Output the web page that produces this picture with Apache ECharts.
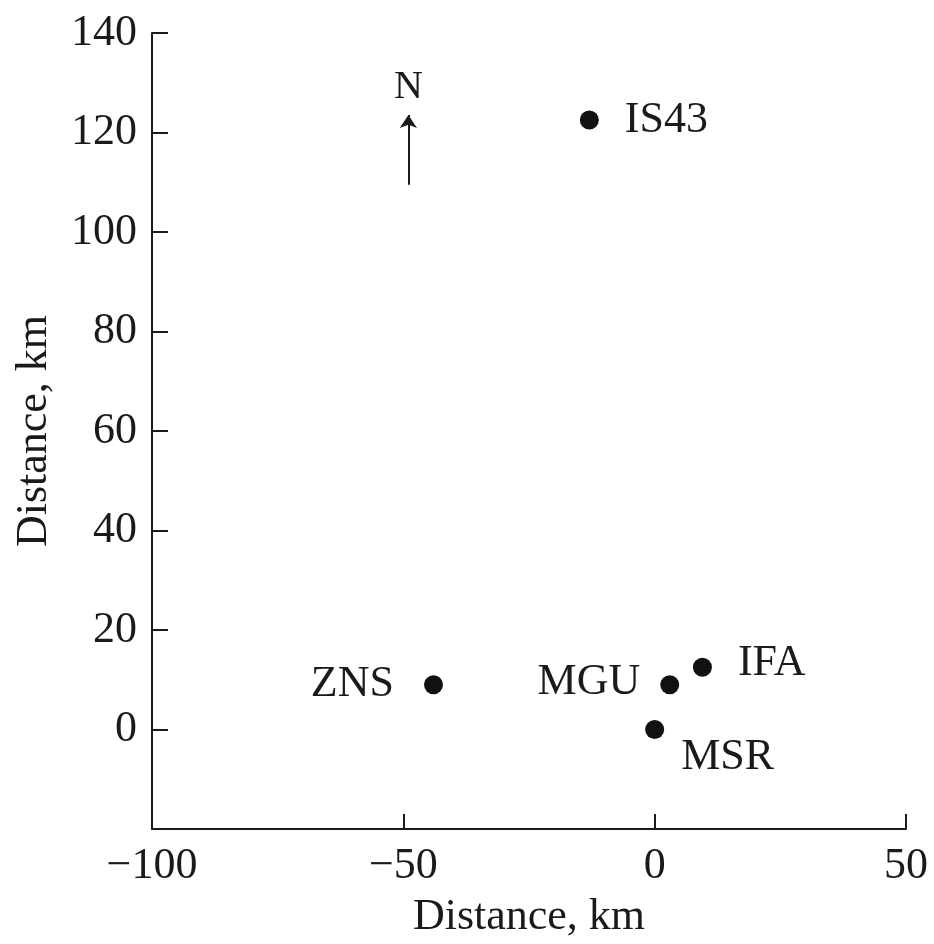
<!DOCTYPE html>
<html>
<head>
<meta charset="utf-8">
<script src="https://cdn.jsdelivr.net/npm/echarts@6/dist/echarts.min.js"></script>
<style>html,body{margin:0;padding:0;background:#fff}#c{width:934px;height:944px}</style>
</head>
<body>
<div id="c"></div>
<script>
// Stations (km)
const stationNames = ['IS43', 'ZNS', 'MGU', 'IFA', 'MSR'];
const stationX = [-13, -44, 3, 9.5, 0];
const stationY = [122.5, 9, 9, 12.5, 0];
// North arrow (data coords)
const northX = -49;
const northFromY = 109.5;
const northToY = 123.5;
const northLabelY = 129;
// Axes
const xTicks = [-100, -50, 0, 50];
const yTicks = [-20, 0, 20, 40, 60, 80, 100, 120, 140];

const FONT = 'Liberation Serif';
const FS = 44;
const labelPlace = {
  IS43: {position: 'right', distance: 26, offset: [0, 0]},
  ZNS: {position: 'left', distance: 30, offset: [0, 0]},
  MGU: {position: 'left', distance: 20, offset: [0, -2]},
  IFA: {position: 'right', distance: 26, offset: [0, -4]},
  MSR: {position: 'right', distance: 17, offset: [0, 28]}
};

const chart = echarts.init(document.getElementById('c'), null, {renderer: 'canvas'});
const fmt = v => (v < 0 ? '\u2212' + Math.abs(v) : String(v));

chart.setOption({
  animation: false,
  backgroundColor: '#fff',
  grid: {left: 152, right: 28, top: 33, bottom: 107, containLabel: false},
  xAxis: {
    type: 'value', min: xTicks[0], max: xTicks[xTicks.length - 1], interval: 50,
    name: 'Distance, km', nameLocation: 'middle', nameGap: 66,
    nameTextStyle: {fontFamily: FONT, fontSize: FS, color: '#1a1a1a'},
    axisLine: {show: true, onZero: false, lineStyle: {color: '#1a1a1a', width: 2}},
    axisTick: {show: true, inside: true, length: 15, lineStyle: {color: '#1a1a1a', width: 2}},
    axisLabel: {fontFamily: FONT, fontSize: FS, color: '#1a1a1a', margin: 15, formatter: fmt},
    splitLine: {show: false}
  },
  yAxis: {
    type: 'value', min: yTicks[0], max: yTicks[yTicks.length - 1], interval: 20,
    name: 'Distance, km', nameLocation: 'middle', nameGap: 96,
    nameTextStyle: {fontFamily: FONT, fontSize: FS, color: '#1a1a1a'},
    axisLine: {show: true, onZero: false, lineStyle: {color: '#1a1a1a', width: 2}},
    axisTick: {show: true, inside: true, length: 16, lineStyle: {color: '#1a1a1a', width: 2}},
    axisLabel: {fontFamily: FONT, fontSize: FS, color: '#1a1a1a', margin: 15,
      formatter: v => (v === yTicks[0] ? '' : fmt(v))},
    splitLine: {show: false}
  },
  series: [
    {
      type: 'scatter',
      symbol: 'circle',
      symbolSize: 19,
      itemStyle: {color: '#111', opacity: 1},
      data: stationNames.map((n, i) => ({
        name: n,
        value: [stationX[i], stationY[i]],
        label: Object.assign({show: true, formatter: n, fontFamily: FONT, fontSize: FS, color: '#1a1a1a'}, labelPlace[n])
      }))
    },
    {
      type: 'lines',
      coordinateSystem: 'cartesian2d',
      symbol: ['none', 'arrow'],
      symbolSize: [0, 13],
      lineStyle: {color: '#1a1a1a', width: 2, opacity: 1},
      data: [{coords: [[northX, northFromY], [northX, northToY]]}]
    },
    {
      type: 'scatter',
      symbolSize: 0,
      silent: true,
      itemStyle: {opacity: 1},
      data: [{value: [northX, northLabelY], label: {show: true, position: 'inside', formatter: 'N', fontFamily: FONT, fontSize: 40, color: '#1a1a1a'}}]
    }
  ]
});
</script>
</body>
</html>
